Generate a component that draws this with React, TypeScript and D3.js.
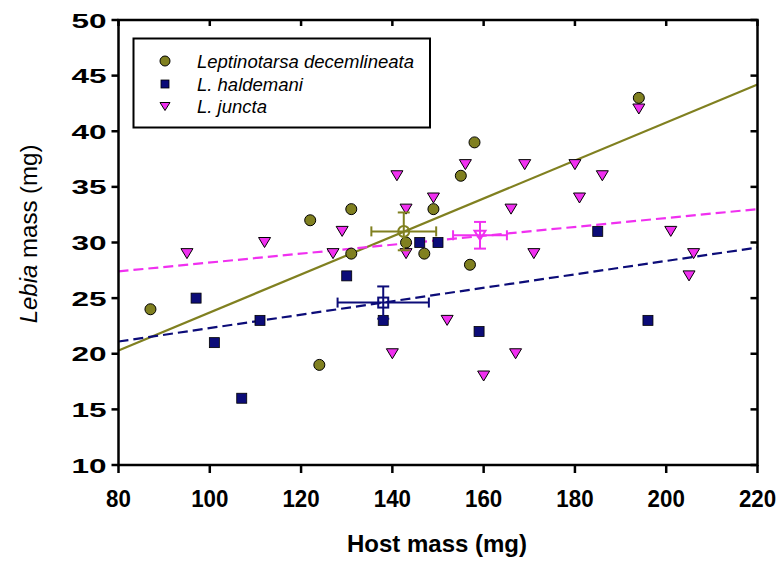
import React, { useRef, useEffect } from "react";
import * as d3 from "d3";

// host mass (x) and Lebia mass (y)
const decemX = [87, 122, 124, 131, 131, 143, 147, 149, 155, 158, 157, 194];
const decemY = [24, 32, 19, 33, 29, 30, 29, 33, 36, 39, 28, 43];

const haldX = [97, 101, 107, 111, 130, 138, 146, 150, 159, 185, 196];
const haldY = [25, 21, 16, 23, 27, 23, 30, 30, 22, 31, 23];

const junctaX = [95, 112, 127, 129, 141, 143, 143, 140, 149, 152, 156, 160, 166, 167, 169, 171, 180, 181, 186, 194, 201, 206, 205];
const junctaY = [29, 30, 29, 31, 36, 33, 29, 20, 34, 23, 37, 18, 33, 20, 37, 29, 37, 34, 36, 42, 31, 29, 27];

// means with error bars: [meanX, meanY, errX, errY]
const decemMean = [142.5, 31.0, 7.1, 1.7];
const haldMean = [138, 24.6, 10, 1.45];
const junctaMean = [159.2, 30.65, 5.9, 1.2];

// fitted lines: y at x = 80 and x = 220
const lineX = [80, 220];
const decemLine = [20.3, 44.2];
const haldLine = [21.1, 29.55];
const junctaLine = [27.4, 33.0];

const xTicks = [80, 100, 120, 140, 160, 180, 200, 220];
const yTicks = [10, 15, 20, 25, 30, 35, 40, 45, 50];

const legendNames = ["Leptinotarsa decemlineata", "L. haldemani", "L. juncta"];

const OLIVE = "#808020";
const NAVY = "#0c0c78";
const MAGENTA = "#f030f0";
const FONT = "'Liberation Sans', Arial, sans-serif";

const triPath = (w: number, h: number) => `M${-w / 2},${-h / 2}L${w / 2},${-h / 2}L0,${h / 2}Z`;

export default function App() {
  const svgRef = useRef<SVGSVGElement>(null);

  useEffect(() => {
    const svg = d3.select(svgRef.current);
    svg.selectAll("*").remove();

    const x = d3.scaleLinear().domain([80, 220]).range([118.5, 757.5]);
    const y = d3.scaleLinear().domain([10, 50]).range([465, 20]);

    const g = svg.append("g");

    // fitted lines
    const fits = [
      { ys: decemLine, color: OLIVE, dash: null },
      { ys: haldLine, color: NAVY, dash: "10,5" },
      { ys: junctaLine, color: MAGENTA, dash: "10,5" },
    ];
    const line = d3.line<[number, number]>().x(d => x(d[0])).y(d => y(d[1]));
    fits.forEach(f => {
      g.append("path")
        .attr("d", line(lineX.map((v, i) => [v, f.ys[i]] as [number, number])))
        .attr("fill", "none")
        .attr("stroke", f.color)
        .attr("stroke-width", 2.2)
        .attr("stroke-dasharray", f.dash);
    });

    // points
    g.selectAll(".dec").data(d3.range(decemX.length)).join("circle")
      .attr("cx", i => x(decemX[i])).attr("cy", i => y(decemY[i])).attr("r", 5.5)
      .attr("fill", OLIVE).attr("stroke", "#000").attr("stroke-width", 1);

    g.selectAll(".hal").data(d3.range(haldX.length)).join("rect")
      .attr("x", i => x(haldX[i]) - 5).attr("y", i => y(haldY[i]) - 5)
      .attr("width", 10).attr("height", 10)
      .attr("fill", NAVY).attr("stroke", "#000").attr("stroke-width", 0.8);

    g.selectAll(".jun").data(d3.range(junctaX.length)).join("path")
      .attr("d", triPath(12, 10))
      .attr("transform", i => `translate(${x(junctaX[i])},${y(junctaY[i])})`)
      .attr("fill", MAGENTA).attr("stroke", "#000").attr("stroke-width", 1);

    // means with error bars
    const means = [
      { m: decemMean, color: OLIVE, shape: "circle" },
      { m: haldMean, color: NAVY, shape: "square" },
      { m: junctaMean, color: MAGENTA, shape: "tri" },
    ];
    means.forEach(({ m, color, shape }) => {
      const cx = x(m[0]), cy = y(m[1]);
      const x0 = x(m[0] - m[2]), x1 = x(m[0] + m[2]);
      const y0 = y(m[1] - m[3]), y1 = y(m[1] + m[3]);
      const eb = g.append("g").attr("stroke", color).attr("stroke-width", 2).attr("fill", "none");
      eb.append("line").attr("x1", x0).attr("x2", x1).attr("y1", cy).attr("y2", cy);
      eb.append("line").attr("x1", cx).attr("x2", cx).attr("y1", y0).attr("y2", y1);
      [x0, x1].forEach(v => eb.append("line").attr("x1", v).attr("x2", v).attr("y1", cy - 5).attr("y2", cy + 5));
      [y0, y1].forEach(v => eb.append("line").attr("x1", cx - 6).attr("x2", cx + 6).attr("y1", v).attr("y2", v));
      if (shape === "circle") eb.append("circle").attr("cx", cx).attr("cy", cy).attr("r", 5.5);
      else if (shape === "square") eb.append("rect").attr("x", cx - 5).attr("y", cy - 5).attr("width", 10).attr("height", 10);
      else eb.append("path").attr("d", triPath(11, 9)).attr("transform", `translate(${cx},${cy})`);
    });

    // frame and ticks
    const ax = svg.append("g").attr("stroke", "#000").attr("stroke-width", 2.5);
    ax.append("rect").attr("x", x(80)).attr("y", y(50)).attr("width", x(220) - x(80)).attr("height", y(10) - y(50))
      .attr("fill", "none").attr("stroke-linejoin", "miter");
    yTicks.forEach(t => {
      ax.append("line").attr("x1", x(80) - 7).attr("x2", x(80)).attr("y1", y(t)).attr("y2", y(t));
      ax.append("line").attr("x1", x(220) - 7).attr("x2", x(220)).attr("y1", y(t)).attr("y2", y(t));
    });
    xTicks.forEach(t => {
      ax.append("line").attr("x1", x(t)).attr("x2", x(t)).attr("y1", y(10)).attr("y2", y(10) + 8);
      ax.append("line").attr("x1", x(t)).attr("x2", x(t)).attr("y1", y(50)).attr("y2", y(50) + 6);
    });

    // tick labels
    svg.append("g").selectAll("text").data(xTicks).join("text")
      .attr("transform", d => `translate(${x(d)},507) scale(0.93,1)`)
      .attr("text-anchor", "middle")
      .attr("font-family", FONT).attr("font-weight", "bold").attr("font-size", 24)
      .text(d => d);

    svg.append("g").selectAll("text").data(yTicks).join("text")
      .attr("transform", d => `translate(106.5,${y(d) + 7.5}) scale(1.5,1)`)
      .attr("text-anchor", "end")
      .attr("font-family", FONT).attr("font-weight", "bold").attr("font-size", 21)
      .text(d => d);

    // axis titles
    svg.append("text")
      .attr("x", 437).attr("y", 552).attr("text-anchor", "middle")
      .attr("font-family", FONT).attr("font-weight", "bold").attr("font-size", 24)
      .text("Host mass (mg)");

    const yl = svg.append("text")
      .attr("transform", "translate(37,234) rotate(-90)")
      .attr("text-anchor", "middle")
      .attr("font-family", FONT).attr("font-size", 24);
    yl.append("tspan").attr("font-style", "italic").text("Lebia");
    yl.append("tspan").text(" mass (mg)");

    // legend
    const lg = svg.append("g");
    lg.append("rect").attr("x", 133.5).attr("y", 38.5).attr("width", 296.5).attr("height", 89)
      .attr("fill", "#fff").attr("stroke", "#000").attr("stroke-width", 2);
    const rowY = [61, 84, 106.5];
    lg.append("circle").attr("cx", 165).attr("cy", rowY[0]).attr("r", 5)
      .attr("fill", OLIVE).attr("stroke", "#000").attr("stroke-width", 1);
    lg.append("rect").attr("x", 161).attr("y", rowY[1] - 4).attr("width", 8).attr("height", 8)
      .attr("fill", NAVY).attr("stroke", "#000").attr("stroke-width", 0.8);
    lg.append("path").attr("d", triPath(10, 8)).attr("transform", `translate(165,${rowY[2]})`)
      .attr("fill", MAGENTA).attr("stroke", "#000").attr("stroke-width", 1);
    lg.selectAll(".lt").data(legendNames).join("text")
      .attr("x", 197).attr("y", (d, i) => rowY[i] + 6.5)
      .attr("font-family", FONT).attr("font-style", "italic").attr("font-size", 18.5)
      .text(d => d);
  }, []);

  return (
    <svg ref={svgRef} width={783} height={570}
      style={{ position: "absolute", left: 0, top: 0, background: "#fff" }} />
  );
}
